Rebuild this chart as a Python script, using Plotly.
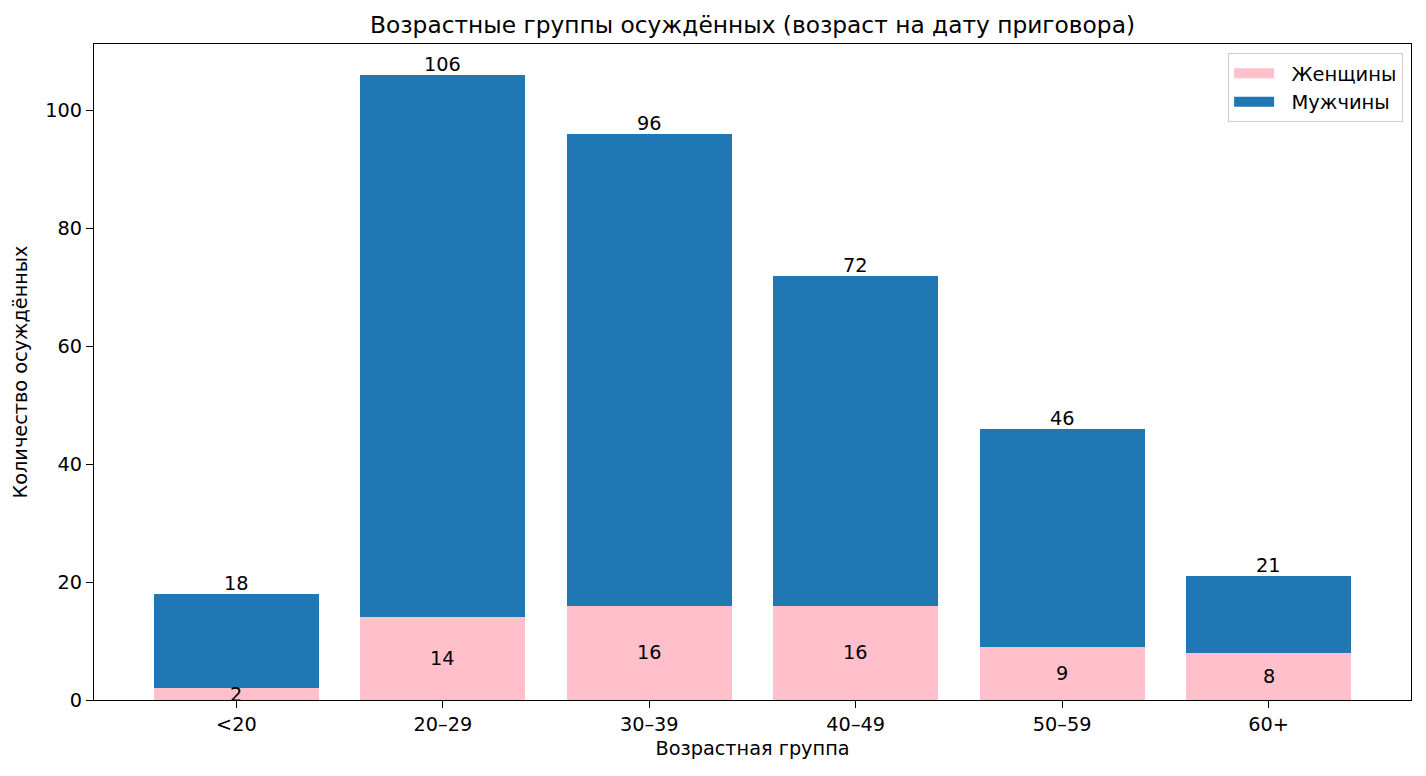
import plotly.graph_objects as go

categories = ["<20", "20–29", "30–39", "40–49", "50–59", "60+"]
women = [2, 14, 16, 16, 9, 8]
men = [16, 92, 80, 56, 37, 13]
totals = [w + m for w, m in zip(women, men)]

FONT = "DejaVu Sans"
FS = 19.3
PINK = "#ffc0cb"
BLUE = "#1f77b4"
fig = go.Figure()
fig.add_trace(go.Bar(x=categories, y=women, name="Женщины", marker_color=PINK,
                     marker_line_width=0, width=0.8, showlegend=False))
fig.add_trace(go.Bar(x=categories, y=men, name="Мужчины", marker_color=BLUE,
                     marker_line_width=0, width=0.8, showlegend=False))
# legend entries drawn as wide patches
fig.add_trace(go.Scatter(x=[None], y=[None], mode="lines", name="\u00a0\u00a0Женщины",
                         line=dict(color=PINK, width=14), hoverinfo="skip"))
fig.add_trace(go.Scatter(x=[None], y=[None], mode="lines", name="\u00a0\u00a0Мужчины",
                         line=dict(color=BLUE, width=14), hoverinfo="skip"))

for c, w, t in zip(categories, women, totals):
    fig.add_annotation(x=c, y=w / 2, text=str(w), showarrow=False,
                       font=dict(family=FONT, size=FS, color="black"), yanchor="middle")
    fig.add_annotation(x=c, y=t, text=str(t), showarrow=False,
                       font=dict(family=FONT, size=FS, color="black"), yanchor="bottom", yshift=-3)

fig.update_layout(
    barmode="stack",
    width=1426, height=776,
    margin=dict(l=94, r=15, t=44, b=76),
    paper_bgcolor="white", plot_bgcolor="white",
    font=dict(family=FONT, size=FS, color="black"),
    title=dict(text="Возрастные группы осуждённых (возраст на дату приговора)",
               xref="paper", x=0.5, xanchor="center", y=0.968, yanchor="middle",
               font=dict(family=FONT, size=23.3, color="black")),
    legend=dict(x=0.994, y=0.986, xanchor="right", yanchor="top",
                bordercolor="#cccccc", borderwidth=1, bgcolor="rgba(255,255,255,0.8)",
                font=dict(family=FONT, size=19.5), traceorder="normal",
                itemwidth=40, tracegroupgap=0),
    bargap=0.2,
)
fig.update_xaxes(range=[-0.69, 5.69], showline=True, linecolor="black", linewidth=1,
                 mirror=True, ticks="outside", ticklen=7, tickcolor="black",
                 showgrid=False, tickfont=dict(size=FS),
                 title=dict(text="Возрастная группа", font=dict(size=FS), standoff=6))
fig.update_yaxes(range=[0, 111.3], showline=True, linecolor="black", linewidth=1,
                 mirror=True, ticks="outside", ticklen=7, tickcolor="black",
                 showgrid=False, zeroline=False, tickvals=[0, 20, 40, 60, 80, 100],
                 tickfont=dict(size=FS),
                 title=dict(text="Количество осуждённых", font=dict(size=FS), standoff=12))

fig.write_html("out.html")
